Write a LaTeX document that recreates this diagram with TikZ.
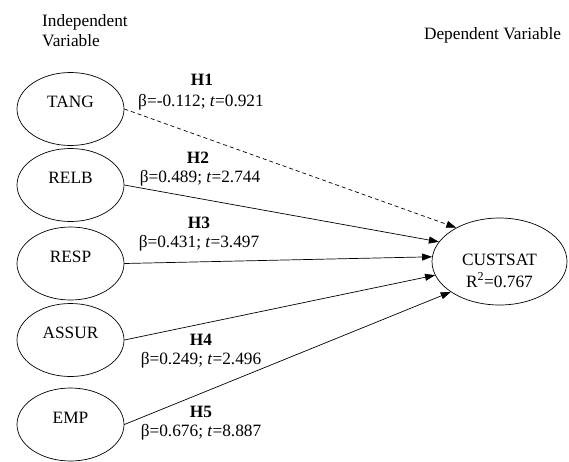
\documentclass[tikz,border=0pt]{standalone}
\usepackage{fontspec}
\setmainfont{Liberation Serif}
\usetikzlibrary{arrows.meta,shapes.geometric,calc}
\tikzset{
  var/.style={draw, ellipse, line width=0.7pt, minimum width=107pt, minimum height=73pt, inner sep=0pt},
  dep/.style={draw, ellipse, line width=0.7pt, minimum width=135pt, minimum height=87pt, inner sep=0pt},
  txt/.style={inner sep=0pt, font=\fontsize{17.3}{20}\selectfont},
  hyp/.style={inner sep=0pt, font=\fontsize{17.3}{20}\selectfont\bfseries},
  path/.style={line width=0.7pt, -{Triangle[length=10pt,width=7pt]}},
  dpath/.style={path, dash pattern=on 4pt off 3pt}
}
\begin{document}
\begin{tikzpicture}[x=1pt,y=-1pt]
\useasboundingbox (0,0) rectangle (569,461);
% headers
\node[txt, anchor=west, align=left, text depth=0pt] (indep) at (42,30) {Independent\\Variable};
\node[txt] (dephead) at (492.5,35) {Dependent Variable};
% independent variables
\node[var] (tang) at (70.5,109) {};
\node[var] (relb) at (70.5,185) {};
\node[var] (resp) at (70.5,263.5) {};
\node[var] (assur) at (70.5,340) {};
\node[var] (emp) at (70.5,424.5) {};
\node[txt] (tangl) at (70.5,102) {TANG};
\node[txt] (relbl) at (70.5,178) {RELB};
\node[txt] (respl) at (70.5,256.5) {RESP};
\node[txt] (assurl) at (70.5,333) {ASSUR};
\node[txt] (empl) at (70.5,417.5) {EMP};
% dependent variable
\node[dep] (cust) at (499.5,261.5) {};
\node[txt] (custl) at (499.5,259.5) {CUSTSAT};
\node[txt] (r2) at (499.5,280) {R\textsuperscript{2}=0.767};
% paths
\draw[dpath] (tang.east) -- (cust.142);
\draw[path] (relb.east) -- (cust.162);
\draw[path] (resp.east) -- (cust.176);
\draw[path] (assur.east) -- (cust.192);
\draw[path] (emp.east) -- (cust.212.5);
% labels
\node[hyp] (h1) at (202,80) {H1};
\node[txt] (b1) at (201,102) {β=-0.112; \textit{t}=0.921};
\node[hyp] (h2) at (198,158) {H2};
\node[txt] (b2) at (200,178) {β=0.489; \textit{t}=2.744};
\node[hyp] (h3) at (199,223) {H3};
\node[txt] (b3) at (199,243) {β=0.431; \textit{t}=3.497};
\node[hyp] (h4) at (201,340) {H4};
\node[txt] (b4) at (201,360) {β=0.249; \textit{t}=2.496};
\node[hyp] (h5) at (201,412) {H5};
\node[txt] (b5) at (201,432) {β=0.676; \textit{t}=8.887};
\end{tikzpicture}
\end{document}
